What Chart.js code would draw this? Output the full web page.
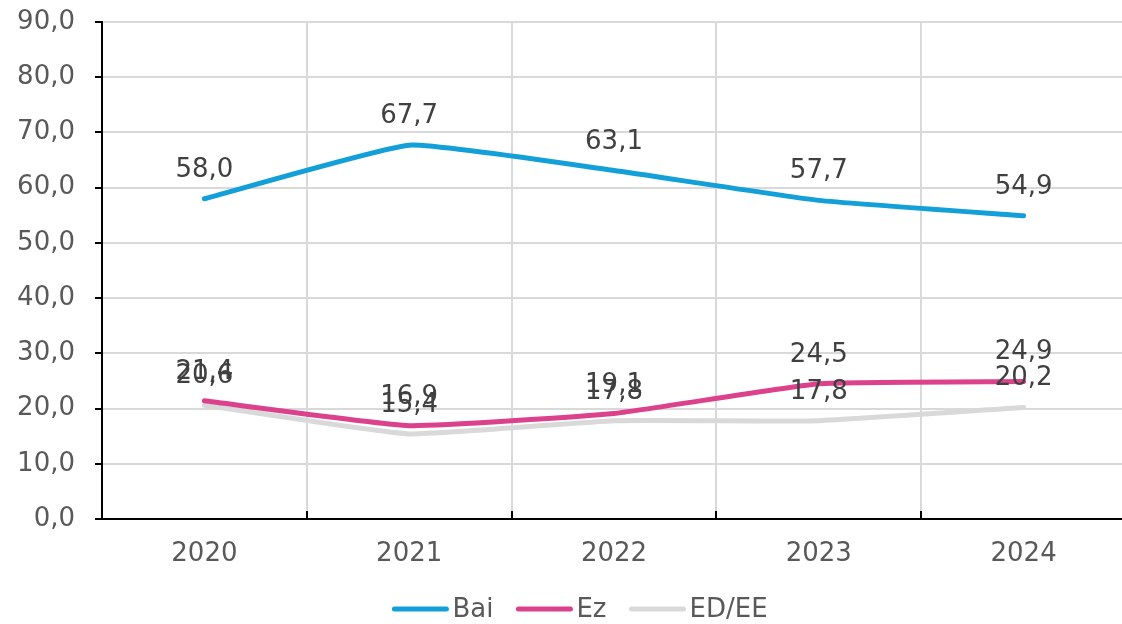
<!DOCTYPE html>
<html>
<head>
<meta charset="utf-8">
<script src="https://cdn.jsdelivr.net/npm/chart.js@4/dist/chart.umd.min.js"></script>
<style>
  html, body { margin: 0; padding: 0; background: #fff; overflow: hidden; }
  #wrap { width: 1126px; height: 624px; position: relative; }
</style>
</head>
<body>
<div id="wrap"><canvas id="chart"></canvas></div>
<script>
const years = ['2020', '2021', '2022', '2023', '2024'];
const bai = [58.0, 67.7, 63.1, 57.7, 54.9];
const ez = [21.4, 16.9, 19.1, 24.5, 24.9];
const edee = [20.6, 15.4, 17.8, 17.8, 20.2];
const seriesNames = ['Bai', 'Ez', 'ED/EE'];
const seriesColors = ['#139fd8', '#dc418b', '#d9d9d9'];

const FONT = 'DejaVu Sans, Verdana, sans-serif';
const fmt = v => v.toFixed(1).replace('.', ',');

// kategorien arteko muga (x pixelak)
function boundaries(chart) {
  const x = chart.scales.x;
  const out = [];
  for (let i = 1; i < years.length; i++) {
    out.push(Math.round((x.getPixelForValue(i - 1) + x.getPixelForValue(i)) / 2));
  }
  return out;
}

// etiketak puntuen gainean
const valueLabels = {
  id: 'valueLabels',
  afterDatasetsDraw(chart) {
    const ctx = chart.ctx;
    ctx.save();
    ctx.font = '26px ' + FONT;
    ctx.fillStyle = '#404040';
    ctx.textAlign = 'center';
    ctx.textBaseline = 'alphabetic';
    chart.data.datasets.forEach((ds, i) => {
      chart.getDatasetMeta(i).data.forEach((pt, j) => {
        ctx.fillText(fmt(ds.data[j]), pt.x, pt.y - 22);
      });
    });
    ctx.restore();
  }
};

// sareta bertikala, x ardatzeko marka txikiak eta legenda
const extras = {
  id: 'extras',
  beforeDatasetsDraw(chart) {
    const ctx = chart.ctx;
    const area = chart.chartArea;
    ctx.save();
    ctx.strokeStyle = '#d9d9d9';
    ctx.lineWidth = 2;
    boundaries(chart).forEach(gx => {
      ctx.beginPath();
      ctx.moveTo(gx, area.top);
      ctx.lineTo(gx, area.bottom);
      ctx.stroke();
    });
    ctx.restore();
  },
  afterDraw(chart) {
    const ctx = chart.ctx;
    const area = chart.chartArea;
    ctx.save();
    ctx.strokeStyle = '#000';
    ctx.lineWidth = 2;
    boundaries(chart).forEach(gx => {
      ctx.beginPath();
      ctx.moveTo(gx, area.bottom);
      ctx.lineTo(gx, area.bottom - 8);
      ctx.stroke();
    });

    // legenda
    ctx.font = '26px ' + FONT;
    ctx.textBaseline = 'middle';
    ctx.textAlign = 'left';
    const lineW = 56, gapText = 4, gapItem = 23, ly = 609;
    const widths = seriesNames.map(n => lineW + gapText + ctx.measureText(n).width);
    const total = widths.reduce((a, b) => a + b, 0) + gapItem * (widths.length - 1);
    let lx = 580 - total / 2;
    seriesNames.forEach((n, i) => {
      ctx.strokeStyle = seriesColors[i];
      ctx.lineWidth = 5;
      ctx.lineCap = 'round';
      ctx.beginPath();
      ctx.moveTo(lx + 2, ly);
      ctx.lineTo(lx + lineW - 2, ly);
      ctx.stroke();
      ctx.fillStyle = '#595959';
      ctx.fillText(n, lx + lineW + gapText, ly + 1);
      lx += widths[i] + gapItem;
    });
    ctx.restore();
  }
};

const datasets = [bai, ez, edee].map((d, i) => ({
  label: seriesNames[i],
  data: d,
  borderColor: seriesColors[i],
  backgroundColor: seriesColors[i],
  borderWidth: 5,
  pointRadius: 0,
  tension: 0.12,
  borderCapStyle: 'round',
  borderJoinStyle: 'round',
  clip: false
}));

new Chart(document.getElementById('chart'), {
  type: 'line',
  data: { labels: years, datasets: datasets },
  plugins: [valueLabels, extras],
  options: {
    responsive: true,
    maintainAspectRatio: false,
    animation: false,
    layout: { padding: { top: 22, right: 0, bottom: 0, left: 0 } },
    plugins: {
      legend: { display: false },
      tooltip: { enabled: false }
    },
    scales: {
      x: {
        offset: true,
        grid: { display: false, drawTicks: false },
        border: { color: '#000', width: 2 },
        ticks: { color: '#595959', font: { family: FONT, size: 26 }, padding: 20 },
        afterFit(scale) { scale.height = 105; }
      },
      y: {
        min: 0,
        max: 90,
        grid: { color: '#d9d9d9', lineWidth: 2, tickColor: '#000', tickLength: 7 },
        border: { color: '#000', width: 2 },
        ticks: {
          stepSize: 10,
          color: '#595959',
          font: { family: FONT, size: 26 },
          padding: 20,
          callback: v => fmt(v)
        },
        afterFit(scale) {
          scale.width = 102;
          scale.paddingTop = 0;
          scale.paddingBottom = 0;
        }
      }
    }
  }
});
</script>
</body>
</html>
